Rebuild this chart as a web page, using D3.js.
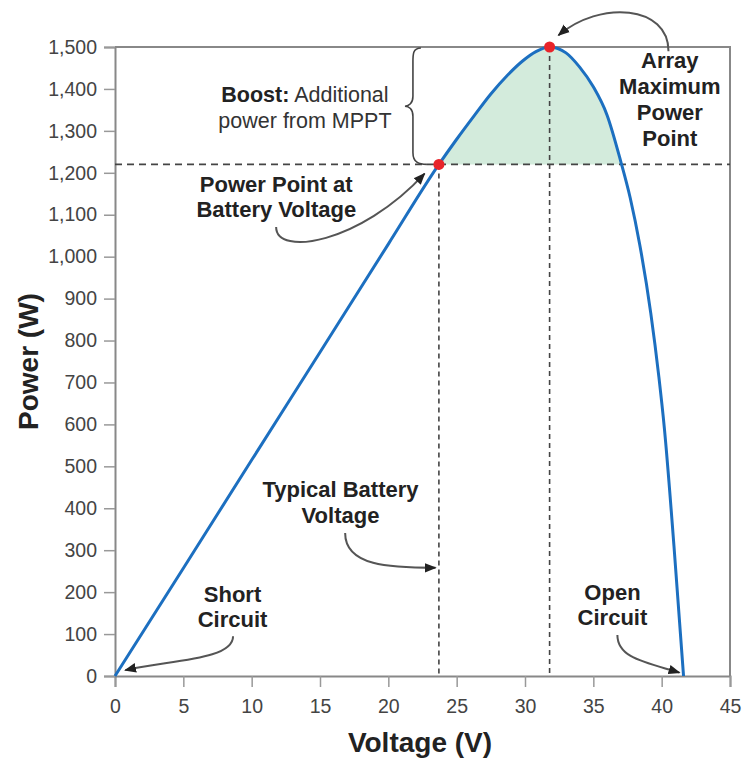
<!DOCTYPE html>
<html><head><meta charset="utf-8">
<script src="https://cdn.jsdelivr.net/npm/d3@7"></script>
<style>
html,body{margin:0;padding:0;background:#fff;}
svg{display:block;font-family:"Liberation Sans",Arial,Helvetica,sans-serif;}
</style></head>
<body>
<svg id="chart" width="746" height="758"></svg>
<script>
// ---- data ----
const voltage = [0, 5, 10, 15, 20, 23.7, 25.0, 26.3, 27.5, 28.7, 29.8, 30.8, 31.8, 33.0, 34.0, 35.0, 36.0, 37.0, 37.7, 38.4, 39.2, 39.8, 40.2, 40.9, 41.6];
const power   = [0, 257, 515, 772, 1030, 1220, 1280, 1337, 1388, 1432, 1466, 1489, 1500, 1486, 1452, 1405, 1338, 1228, 1140, 1028, 866, 712, 590, 310, 0];
const xTicks = [0, 5, 10, 15, 20, 25, 30, 35, 40, 45];
const yTicks = [0, 100, 200, 300, 400, 500, 600, 700, 800, 900, 1000, 1100, 1200, 1300, 1400, 1500];
const batteryPoint = {v: 23.7, p: 1220};
const maxPoint = {v: 31.8, p: 1500};
const xTitle = "Voltage (V)";
const yTitle = "Power (W)";

// annotation texts (anchor in data units)
const labels = [
  {v: 11.8, p: [1154, 1095], lines: ["Power Point at", "Battery Voltage"]},
  {v: 40.6, p: [1450, 1388, 1326, 1264], lines: ["Array", "Maximum", "Power", "Point"]},
  {v: 16.5, p: [427, 365], lines: ["Typical Battery", "Voltage"]},
  {v: 8.6, p: [176, 117], lines: ["Short", "Circuit"]},
  {v: 36.4, p: [181, 122], lines: ["Open", "Circuit"]}
];
// arrows: start, control1, control2, end (data units)
const arrows = [
  [[11.79, 1071], [11.79, 1000], [17.9, 1030], [22.65, 1198]],
  [[40.5, 1490], [40.5, 1600], [35.5, 1612], [32.45, 1528]],
  [[16.84, 341], [16.84, 262], [20.1, 258], [23.45, 258]],
  [[8.64, 95], [8.64, 38], [4.0, 38], [0.75, 14]],
  [[36.76, 98], [36.76, 43], [38.8, 33], [41.3, 8]]
];

// ---- layout ----
const W = 746, H = 758;
const m = {left: 115, right: 16, top: 47, bottom: 82};
const svg = d3.select("#chart");
const x = d3.scaleLinear().domain([0, 45]).range([m.left, W - m.right]);
const y = d3.scaleLinear().domain([0, 1500]).range([H - m.bottom, m.top]);
const pts = voltage.map((v, i) => [v, power[i]]);

const defs = svg.append("defs");
defs.append("marker").attr("id", "ah").attr("viewBox", "0 0 10 10")
  .attr("refX", 9).attr("refY", 5).attr("markerWidth", 12).attr("markerHeight", 12)
  .attr("markerUnits", "userSpaceOnUse").attr("orient", "auto")
  .append("path").attr("d", "M0,1 L10,5 L0,9 Z").attr("fill", "#222");
defs.append("clipPath").attr("id", "aboveBatt").append("rect")
  .attr("x", m.left).attr("y", m.top).attr("width", W - m.left - m.right)
  .attr("height", y(batteryPoint.p) - m.top);

const curve = d3.curveMonotoneX;

// green boost area
svg.append("path").datum(pts)
  .attr("clip-path", "url(#aboveBatt)")
  .attr("fill", "#d3ebdc")
  .attr("d", d3.area().x(d => x(d[0])).y0(y(0)).y1(d => y(d[1])).curve(curve));

// axes
const xAxis = d3.axisBottom(x).tickValues(xTicks).tickSize(11).tickPadding(12).tickFormat(d3.format("d"));
const yAxis = d3.axisLeft(y).tickValues(yTicks).tickSize(11).tickPadding(7).tickFormat(d3.format(","));
const gx = svg.append("g").attr("transform", `translate(0,${y(0)})`).call(xAxis);
const gy = svg.append("g").attr("transform", `translate(${x(0)},0)`).call(yAxis);
[gx, gy].forEach(g => {
  g.select(".domain").attr("stroke", "#888").attr("stroke-width", 2);
  g.selectAll(".tick line").attr("stroke", "#999").attr("stroke-width", 1.5);
  g.selectAll(".tick text").attr("fill", "#444").attr("font-size", 19.5)
    .attr("font-family", "'Liberation Sans',Arial,sans-serif");
});
// frame top + right
svg.append("path")
  .attr("d", `M${x(0)},${y(1500)} H${x(45)} V${y(0)}`)
  .attr("fill", "none").attr("stroke", "#888").attr("stroke-width", 2);

// dashed reference lines
svg.append("line").attr("x1", x(0)).attr("x2", x(45))
  .attr("y1", y(batteryPoint.p)).attr("y2", y(batteryPoint.p))
  .attr("stroke", "#444").attr("stroke-width", 1.6).attr("stroke-dasharray", "7,5");
[batteryPoint, maxPoint].forEach(pt => {
  svg.append("line").attr("x1", x(pt.v)).attr("x2", x(pt.v))
    .attr("y1", y(pt.p)).attr("y2", y(0))
    .attr("stroke", "#444").attr("stroke-width", 1.6).attr("stroke-dasharray", "5,4");
});

// curve
svg.append("path").datum(pts)
  .attr("fill", "none").attr("stroke", "#1c6fc0").attr("stroke-width", 3)
  .attr("d", d3.line().x(d => x(d[0])).y(d => y(d[1])).curve(curve));

// dots
[batteryPoint, maxPoint].forEach(pt => {
  svg.append("circle").attr("cx", x(pt.v)).attr("cy", y(pt.p)).attr("r", 5.5).attr("fill", "#e8242a");
});

// brace
(function(){
  const bx = x(21.8), top = y(1500) + 1, bot = y(batteryPoint.p), mid = (top + bot) / 2;
  const d = `M${bx + 8},${top} C${bx},${top} ${bx},${top + 6} ${bx},${top + 14}
    L${bx},${mid - 10} C${bx},${mid - 3} ${bx - 4},${mid} ${bx - 8},${mid}
    C${bx - 4},${mid} ${bx},${mid + 3} ${bx},${mid + 10}
    L${bx},${bot - 12} C${bx},${bot - 2} ${bx + 6},${bot} ${bx + 14},${bot}`;
  svg.append("path").attr("d", d).attr("fill", "none").attr("stroke", "#444").attr("stroke-width", 1.6);
})();

// boost text
const boost = svg.append("text").attr("text-anchor", "middle").attr("font-size", 21.5).attr("fill", "#333");
const b1 = boost.append("tspan").attr("x", x(13.9)).attr("y", y(1369));
b1.append("tspan").attr("font-weight", "bold").attr("fill", "#222").text("Boost:");
b1.append("tspan").text(" Additional");
boost.append("tspan").attr("x", x(13.9)).attr("y", y(1307)).text("power from MPPT");

// labels
labels.forEach(l => {
  const t = svg.append("text").attr("text-anchor", "middle").attr("font-size", 22)
    .attr("font-weight", "bold").attr("fill", "#222");
  l.lines.forEach((s, i) => t.append("tspan").attr("x", x(l.v)).attr("y", y(l.p[i])).text(s));
});

// arrows
arrows.forEach(a => {
  const p = a.map(d => [x(d[0]), y(d[1])]);
  svg.append("path")
    .attr("d", `M${p[0]} C${p[1]} ${p[2]} ${p[3]}`)
    .attr("fill", "none").attr("stroke", "#555").attr("stroke-width", 2)
    .attr("marker-end", "url(#ah)");
});

// axis titles
svg.append("text").attr("x", 420).attr("y", 752)
  .attr("text-anchor", "middle").attr("font-size", 28).attr("font-weight", "bold").attr("fill", "#222")
  .text(xTitle);
svg.append("text").attr("transform", `translate(38,${(y(0) + y(1500)) / 2}) rotate(-90)`)
  .attr("text-anchor", "middle").attr("font-size", 28).attr("font-weight", "bold").attr("fill", "#222")
  .text(yTitle);
</script>
</body></html>
